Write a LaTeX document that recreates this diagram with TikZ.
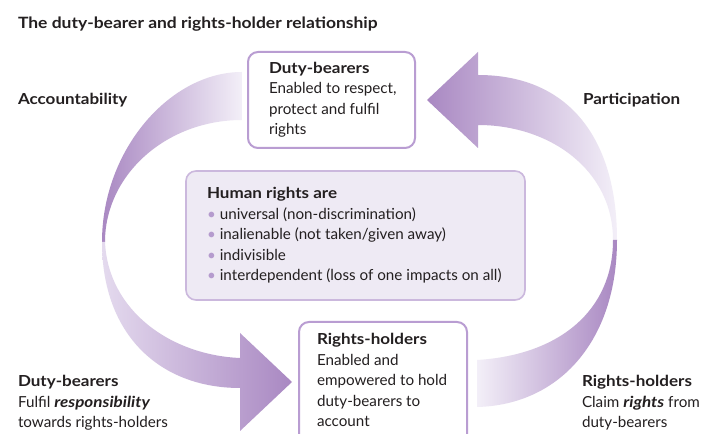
\documentclass[tikz,border=0pt]{standalone}
\usepackage{fontspec}
\setmainfont{Lato}[BoldFeatures={FakeStretch=1.12},BoldItalicFeatures={FakeStretch=1.12}]
\definecolor{arrdark}{HTML}{A988C2}
\definecolor{arrlight}{HTML}{F3EFF8}
\definecolor{arrmid}{HTML}{E4DAEE}
\definecolor{boxline}{HTML}{B99DD2}
\definecolor{cfill}{HTML}{EEEAF4}
\definecolor{cline}{HTML}{CBB8DD}
\definecolor{txt}{HTML}{231F20}
\definecolor{bul}{HTML}{B59BCE}
\newcommand{\bpt}{{\color{bul}\textbullet}\hspace{3pt}}
\begin{document}
\begin{tikzpicture}[x=0.75pt,y=-0.75pt,
  every node/.style={text=txt, inner sep=0pt, outer sep=0pt},
  txtblock/.style={anchor=base west, align=left, font=\fontsize{11.4}{15.4}\selectfont},
  heading/.style={anchor=base west, font=\bfseries\fontsize{11.4}{15.4}\selectfont},
  titletext/.style={anchor=base west, font=\bfseries\fontsize{11.7}{15}\selectfont},
  whitebox/.style={draw=boxline, line width=1.5pt, rounded corners=7.5pt, fill=white},
  centerbox/.style={draw=cline, line width=1.2pt, rounded corners=7.5pt, fill=cfill}]
\clip (0,0) rectangle (704,434);
\fill[white] (0,0) rectangle (704,434);

% left arrow (Accountability), upper part
\shade[left color=arrdark, right color=arrlight]
  (242,72) .. controls (170,72) and (102,150) .. (102,242)
  -- (105,242) .. controls (105,175) and (166,120) .. (242,120) -- cycle;
% left arrow, lower part
\shade[left color=arrmid, right color=arrdark]
  (102,242) .. controls (102,335) and (160,388) .. (240,388)
  -- (240,431) -- (292,382) -- (240,333) -- (240,358)
  .. controls (170,355) and (108,310) .. (105,242) -- cycle;

% right arrow (Participation), upper part
\shade[left color=arrdark, right color=arrlight]
  (427,100) -- (478,52) -- (478,75) .. controls (570,75) and (617,140) .. (617,240)
  -- (613,240) .. controls (613,170) and (550,125) .. (478,125) -- (478,148) -- cycle;
% right arrow, lower part
\shade[left color=arrlight, right color=arrdark]
  (617,240) .. controls (617,340) and (560,405) .. (477,407)
  -- (477,360) .. controls (560,355) and (613,310) .. (613,240) -- cycle;

% boxes
\node[whitebox, minimum width=125.25pt, minimum height=72pt] (dbox) at (331.5,100) {};
\node[centerbox, minimum width=254.25pt, minimum height=96.75pt] (hbox) at (355.5,235.5) {};
\node[whitebox, minimum width=126pt, minimum height=92.25pt] (rbox) at (383,383.5) {};

% texts
\node[titletext] (title) at (18,29) {The duty-bearer and rights-holder relationship};
\node[heading] (acc) at (18,105) {Accountability};
\node[heading] (par) at (583,105) {Participation};

\node[txtblock] (dtext) at (269,135) {\textbf{Duty-bearers}\\Enabled to respect,\\protect and fulfil\\rights};
\node[txtblock] (htext) at (207,281) {\textbf{Human rights are}\\\bpt universal (non-discrimination)\\\bpt inalienable (not taken/given away)\\\bpt indivisible\\\bpt interdependent (loss of one impacts on all)};
\node[txtblock] (rtext) at (317,427) {\textbf{Rights-holders}\\Enabled and\\empowered to hold\\duty-bearers to\\account};
\node[txtblock] (dlabel) at (18,428) {\textbf{Duty-bearers}\\Fulfil \textbf{\itshape responsibility}\\towards rights-holders};
\node[txtblock] (rlabel) at (582,428) {\textbf{Rights-holders}\\Claim \textbf{\itshape rights} from\\duty-bearers};
\end{tikzpicture}
\end{document}
